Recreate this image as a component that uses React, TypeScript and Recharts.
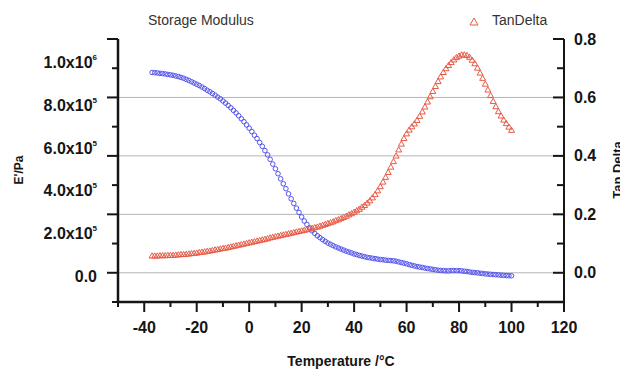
import { ScatterChart, Scatter, XAxis, YAxis, ReferenceLine, Legend, Label } from "recharts";

const FONT = "Arial, 'Liberation Sans', sans-serif";

// 温度 (°C)
const temperatures = [
  -37, -36, -35, -34, -33, -32, -31, -30, -29, -28,
  -27, -26, -25, -24, -23, -22, -21, -20, -19, -18,
  -17, -16, -15, -14, -13, -12, -11, -10, -9, -8,
  -7, -6, -5, -4, -3, -2, -1, 0, 1, 2,
  3, 4, 5, 6, 7, 8, 9, 10, 11, 12,
  13, 14, 15, 16, 17, 18, 19, 20, 21, 22,
  23, 24, 25, 26, 27, 28, 29, 30, 31, 32,
  33, 34, 35, 36, 37, 38, 39, 40, 41, 42,
  43, 44, 45, 46, 47, 48, 49, 50, 51, 52,
  53, 54, 55, 56, 57, 58, 59, 60, 61, 62,
  63, 64, 65, 66, 67, 68, 69, 70, 71, 72,
  73, 74, 75, 76, 77, 78, 79, 80, 81, 82,
  83, 84, 85, 86, 87, 88, 89, 90, 91, 92,
  93, 94, 95, 96, 97, 98, 99, 100,
];

// E' (kPa)
const storageModulus = [
  937, 936, 935, 933, 932, 930, 928, 926, 924, 921,
  918, 914, 910, 905, 900, 894, 888, 882, 876, 869,
  862, 854, 847, 839, 831, 822, 814, 804, 794, 783,
  772, 760, 748, 735, 721, 707, 692, 677, 661, 644,
  628, 610, 592, 572, 552, 531, 509, 487, 464, 440,
  417, 394, 370, 347, 325, 303, 283, 262, 243, 227,
  211, 197, 185, 174, 165, 156, 148, 140, 134, 128,
  122, 117, 112, 107, 102, 98, 94, 89, 86, 82,
  79, 76, 73, 71, 69, 67, 65, 63, 62, 60,
  59, 58, 57, 55, 52, 49, 46, 43, 39, 36,
  33, 30, 28, 26, 23, 21, 19, 17, 15, 13,
  12, 11, 10, 10, 11, 11, 11, 11, 10, 8,
  7, 5, 3, 2, 1, -1, -2, -4, -5, -6,
  -7, -8, -9, -10, -11, -12, -13, -13,
];

const tanDelta = [
  0.058, 0.058, 0.058, 0.059, 0.059, 0.059, 0.06, 0.06, 0.06, 0.061,
  0.062, 0.063, 0.063, 0.064, 0.065, 0.066, 0.067, 0.068, 0.07, 0.071,
  0.072, 0.074, 0.075, 0.077, 0.079, 0.08, 0.082, 0.084, 0.085, 0.087,
  0.089, 0.091, 0.093, 0.095, 0.097, 0.099, 0.101, 0.103, 0.105, 0.107,
  0.109, 0.111, 0.113, 0.115, 0.117, 0.12, 0.122, 0.124, 0.126, 0.128,
  0.13, 0.132, 0.134, 0.136, 0.138, 0.14, 0.142, 0.144, 0.146, 0.148,
  0.15, 0.153, 0.155, 0.157, 0.16, 0.163, 0.166, 0.169, 0.172, 0.175,
  0.179, 0.182, 0.186, 0.19, 0.194, 0.199, 0.203, 0.208, 0.213, 0.218,
  0.225, 0.231, 0.239, 0.247, 0.257, 0.268, 0.281, 0.295, 0.311, 0.327,
  0.344, 0.362, 0.381, 0.4, 0.421, 0.441, 0.46, 0.476, 0.489, 0.5,
  0.51, 0.522, 0.536, 0.551, 0.568, 0.585, 0.603, 0.621, 0.638, 0.655,
  0.671, 0.686, 0.699, 0.71, 0.72, 0.729, 0.737, 0.742, 0.746, 0.746,
  0.744, 0.738, 0.728, 0.716, 0.701, 0.684, 0.666, 0.646, 0.626, 0.607,
  0.587, 0.569, 0.552, 0.537, 0.523, 0.511, 0.499, 0.488,
];

const xTicks = [-50, -40, -30, -20, -10, 0, 10, 20, 30, 40, 50, 60, 70, 80, 90, 100, 110, 120];
const modulusTicks = [0, 200, 400, 600, 800, 1000];
const modulusMantissa = ["0.0", "2.0x10", "4.0x10", "6.0x10", "8.0x10", "1.0x10"];
const modulusExponent = ["", "5", "5", "5", "5", "6"];
const tanTicks = [-0.1, 0, 0.1, 0.2, 0.3, 0.4, 0.5, 0.6, 0.7, 0.8];
const gridValues = [0, 0.2, 0.4, 0.6];

const modulusData = temperatures.map((t, i) => ({ t, e: storageModulus[i] }));
const tanData = temperatures.map((t, i) => ({ t, d: tanDelta[i] }));

const BLUE = "#5454ee";
const RED = "#e85a46";
const INK = "#151515";

function CircleDot({ cx, cy }: any) {
  return <circle cx={cx} cy={cy} r={2.3} fill="none" stroke={BLUE} strokeWidth={1} />;
}

function TriangleDot({ cx, cy }: any) {
  return (
    <polygon
      points={`${cx},${cy - 3} ${cx - 3},${cy + 2.2} ${cx + 3},${cy + 2.2}`}
      fill="none"
      stroke={RED}
      strokeWidth={1}
    />
  );
}

function BottomTick({ x, y, payload }: any) {
  const v = payload.value;
  const major = v % 20 === 0;
  return (
    <g>
      <line x1={x} y1={y} x2={x} y2={y + (major ? 10 : 5)} stroke={INK} strokeWidth={2} />
      {major && (
        <text x={x} y={y + 31} textAnchor="middle" fontFamily={FONT} fontSize={16} fontWeight="bold" fill={INK}>
          {v}
        </text>
      )}
    </g>
  );
}

function TopTick({ x, y, payload }: any) {
  const v = payload.value;
  if (v === -50 || v === 120) return <g />;
  const major = v % 20 === 0;
  return <line x1={x} y1={y} x2={x} y2={y + (major ? 8 : 4)} stroke="#333" strokeWidth={1.5} />;
}

// 左枠の目盛り（右軸と同じ間隔）
function FrameTick({ x, y, payload }: any) {
  const major = Math.round(payload.value * 10) % 2 === 0;
  return <line x1={x} y1={y} x2={x - (major ? 11 : 6)} y2={y} stroke={INK} strokeWidth={2} />;
}

function ModulusTick({ x, y, payload }: any) {
  const i = modulusTicks.indexOf(payload.value);
  if (i < 0) return <g />;
  return (
    <text x={x - 20} y={y + 9} textAnchor="end" fontFamily={FONT} fontSize={16} fontWeight="bold" fill={INK}>
      {modulusMantissa[i]}
      {modulusExponent[i] && (
        <tspan dy={-8} fontSize={8}>
          {modulusExponent[i]}
        </tspan>
      )}
    </text>
  );
}

function TanTick({ x, y, payload }: any) {
  const k = Math.round(payload.value * 10);
  if (k < 0) return <g />;
  const major = k % 2 === 0;
  return (
    <g>
      <line x1={x} y1={y} x2={x - (major ? 11 : 7)} y2={y} stroke={INK} strokeWidth={2} />
      {major && (
        <text x={x + 10} y={y + 5.5} fontFamily={FONT} fontSize={16} fontWeight="bold" fill={INK}>
          {payload.value.toFixed(1)}
        </text>
      )}
    </g>
  );
}

const legendPos: Record<string, number> = { "Storage Modulus": 140, TanDelta: 484 };

function LegendContent({ payload }: any) {
  return (
    <div style={{ position: "relative", width: 620, height: 26, fontFamily: FONT, fontSize: 14, color: "#333" }}>
      {(payload || []).map((entry: any) => (
        <div key={entry.value} style={{ position: "absolute", left: legendPos[entry.value], top: 4, whiteSpace: "nowrap" }}>
          {entry.value === "TanDelta" && (
            <svg width={10} height={10} style={{ position: "absolute", left: -23, top: 5 }}>
              <polygon points="5,1 1,8 9,8" fill="none" stroke={RED} strokeWidth={1} />
            </svg>
          )}
          {entry.value}
        </div>
      ))}
    </div>
  );
}

export default function App() {
  return (
    <ScatterChart width={620} height={361} margin={{ top: 31, right: 0, bottom: 0, left: 0 }}>
      <XAxis
        xAxisId="x"
        type="number"
        dataKey="t"
        domain={[-50, 120]}
        allowDataOverflow
        ticks={xTicks}
        interval={0}
        height={67}
        tickSize={0}
        tickMargin={0}
        tickLine={false}
        tick={<BottomTick />}
        axisLine={{ stroke: INK, strokeWidth: 2.5 }}
      >
        <Label
          content={() => (
            <text x={333} y={358} textAnchor="middle" fontFamily={FONT} fontSize={14} fontWeight="bold" fill={INK}>
              Temperature /°C
            </text>
          )}
        />
      </XAxis>
      <XAxis
        xAxisId="top"
        orientation="top"
        type="number"
        domain={[-50, 120]}
        allowDataOverflow
        ticks={xTicks}
        interval={0}
        height={0}
        tickSize={0}
        tickMargin={0}
        tickLine={false}
        tick={<TopTick />}
        axisLine={{ stroke: "#666", strokeWidth: 1.5 }}
      />
      <YAxis
        yAxisId="frame"
        type="number"
        domain={[-0.1, 0.8]}
        allowDataOverflow
        ticks={tanTicks}
        interval={0}
        width={1}
        tickSize={0}
        tickMargin={0}
        tickLine={false}
        tick={<FrameTick />}
        axisLine={{ stroke: INK, strokeWidth: 2.5 }}
      />
      <YAxis
        yAxisId="modulus"
        type="number"
        dataKey="e"
        domain={[-135.5, 1093.5]}
        allowDataOverflow
        ticks={modulusTicks}
        interval={0}
        width={109}
        tickSize={0}
        tickMargin={0}
        tickLine={false}
        axisLine={false}
        tick={<ModulusTick />}
      >
        <Label
          content={() => (
            <text
              x={11}
              y={162}
              transform="rotate(-90, 11, 162)"
              textAnchor="middle"
              dominantBaseline="central"
              fontFamily={FONT}
              fontSize={12}
              fontWeight="bold"
              fill={INK}
            >
              E'/Pa
            </text>
          )}
        />
      </YAxis>
      <YAxis
        yAxisId="tan"
        orientation="right"
        type="number"
        dataKey="d"
        domain={[-0.1, 0.8]}
        allowDataOverflow
        ticks={tanTicks}
        interval={0}
        width={64}
        tickSize={0}
        tickMargin={0}
        tickLine={false}
        tick={<TanTick />}
        axisLine={{ stroke: INK, strokeWidth: 2 }}
      >
        <Label
          content={() => (
            <text
              x={609}
              y={162}
              transform="rotate(-90, 609, 162)"
              textAnchor="middle"
              dominantBaseline="central"
              fontFamily={FONT}
              fontSize={13}
              fontWeight="bold"
              fill={INK}
            >
              Tan Delta
            </text>
          )}
        />
      </YAxis>
      {gridValues.map((v) => (
        <ReferenceLine key={v} xAxisId="x" yAxisId="tan" y={v} stroke="#b4b4b4" strokeWidth={1} />
      ))}
      <Legend
        layout="horizontal"
        verticalAlign="middle"
        align="center"
        content={<LegendContent />}
        wrapperStyle={{ top: 0, left: 0, width: 620, height: 26 }}
      />
      <Scatter
        name="Storage Modulus"
        data={modulusData}
        xAxisId="x"
        yAxisId="modulus"
        fill={BLUE}
        shape={<CircleDot />}
        isAnimationActive={false}
      />
      <Scatter
        name="TanDelta"
        data={tanData}
        xAxisId="x"
        yAxisId="tan"
        fill={RED}
        shape={<TriangleDot />}
        isAnimationActive={false}
      />
    </ScatterChart>
  );
}
